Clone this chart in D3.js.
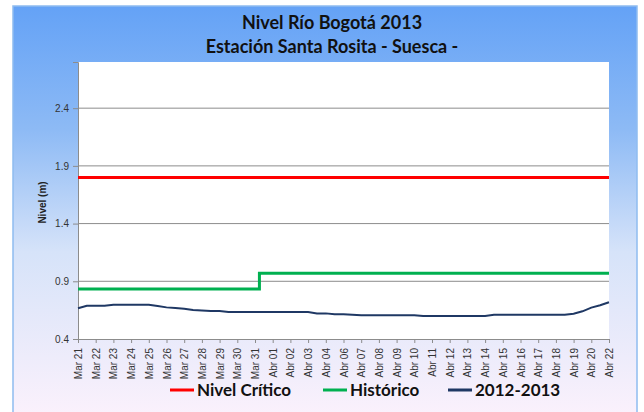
<!DOCTYPE html>
<html>
<head>
<meta charset="utf-8">
<script src="https://cdn.jsdelivr.net/npm/d3@7"></script>
<style>
  body { margin: 0; background: #fff; }
  svg { display: block; }
</style>
</head>
<body>
<div id="chart"></div>
<script>
// category labels on the x axis (Abr 05 and Abr 21 are not in the sheet)
const fechas = ["Mar 21","Mar 22","Mar 23","Mar 24","Mar 25","Mar 26","Mar 27","Mar 28","Mar 29","Mar 30","Mar 31",
  "Abr 01","Abr 02","Abr 03","Abr 04","Abr 06","Abr 07","Abr 08","Abr 09","Abr 10","Abr 11","Abr 12","Abr 13",
  "Abr 14","Abr 15","Abr 16","Abr 17","Abr 18","Abr 19","Abr 20","Abr 22"];

// two readings per label step (61 readings)
const nivelCritico = [
  1.8,1.8,1.8,1.8,1.8,1.8,1.8,1.8,1.8,1.8,1.8,1.8,1.8,1.8,1.8,1.8,1.8,1.8,1.8,1.8,
  1.8,1.8,1.8,1.8,1.8,1.8,1.8,1.8,1.8,1.8,1.8,1.8,1.8,1.8,1.8,1.8,1.8,1.8,1.8,1.8,
  1.8,1.8,1.8,1.8,1.8,1.8,1.8,1.8,1.8,1.8,1.8,1.8,1.8,1.8,1.8,1.8,1.8,1.8,1.8,1.8,1.8];

const historico = [
  0.833,0.833,0.833,0.833,0.833,0.833,0.833,0.833,0.833,0.833,0.833,0.833,0.833,0.833,0.833,0.833,0.833,0.833,0.833,0.833,
  0.833,0.969,0.969,0.969,0.969,0.969,0.969,0.969,0.969,0.969,0.969,0.969,0.969,0.969,0.969,0.969,0.969,0.969,0.969,0.969,
  0.969,0.969,0.969,0.969,0.969,0.969,0.969,0.969,0.969,0.969,0.969,0.969,0.969,0.969,0.969,0.969,0.969,0.969,0.969,0.969,0.969];

const serie2012 = [
  0.666,0.688,0.688,0.688,0.697,0.697,0.697,0.697,0.697,0.686,0.674,0.668,0.662,0.651,0.646,0.642,0.642,0.634,0.634,0.634,
  0.634,0.634,0.634,0.634,0.634,0.634,0.634,0.622,0.622,0.614,0.614,0.610,0.605,0.605,0.605,0.605,0.605,0.605,0.605,0.599,
  0.599,0.599,0.599,0.599,0.599,0.599,0.599,0.610,0.610,0.610,0.610,0.610,0.610,0.610,0.610,0.610,0.619,0.640,0.672,0.692,0.718];

const yTicks = [0.4, 0.9, 1.4, 1.9, 2.4];

const width = 644, height = 412;
const plot = {left: 78, right: 609, top: 62, bottom: 339};

const svg = d3.select("#chart").append("svg")
  .attr("width", width)
  .attr("height", height);

// background gradient panel
const defs = svg.append("defs");
const grad = defs.append("linearGradient")
  .attr("id", "bg")
  .attr("x1", 0).attr("y1", 0).attr("x2", 0).attr("y2", 1);
grad.append("stop").attr("offset", "0%").attr("stop-color", "#64a2f6");
grad.append("stop").attr("offset", "30%").attr("stop-color", "#8dbaf5");
grad.append("stop").attr("offset", "60%").attr("stop-color", "#d6e3f9");
grad.append("stop").attr("offset", "100%").attr("stop-color", "#fbf1fc");

svg.append("rect")
  .attr("x", 13).attr("y", 6)
  .attr("width", 624).attr("height", 410)
  .attr("fill", "url(#bg)")
  .attr("stroke", "#8fbcf0")
  .attr("stroke-width", 1.5);

svg.append("rect")
  .attr("x", plot.left).attr("y", plot.top)
  .attr("width", plot.right - plot.left)
  .attr("height", plot.bottom - plot.top)
  .attr("fill", "#fff");

// scales
const xScale = d3.scaleLinear()
  .domain([0, serie2012.length - 1])
  .range([plot.left, plot.right]);

const yScale = d3.scaleLinear()
  .domain([0.4, 2.8])
  .range([plot.bottom, plot.top]);

// gridlines
svg.append("g")
  .selectAll("line")
  .data(yTicks.slice(1))
  .enter()
  .append("line")
  .attr("x1", plot.left).attr("x2", plot.right)
  .attr("y1", d => yScale(d)).attr("y2", d => yScale(d))
  .attr("stroke", "#8c8c8c")
  .attr("stroke-width", 1);

// y axis
const yAxis = d3.axisLeft(yScale)
  .tickValues(yTicks)
  .tickFormat(d3.format(".1f"))
  .tickSize(5)
  .tickPadding(4);

const gy = svg.append("g")
  .attr("transform", "translate(" + plot.left + ",0)")
  .call(yAxis);
gy.select(".domain").attr("stroke", "#8c8c8c");
gy.selectAll(".tick line").attr("stroke", "#8c8c8c");
gy.selectAll("text")
  .attr("font-family", "Liberation Sans, Arial, sans-serif")
  .attr("font-size", 10)
  .attr("fill", "#333");

// x axis, a label every second reading
const xAxis = d3.axisBottom(xScale)
  .tickValues(fechas.map((f, i) => i * 2))
  .tickFormat(d => fechas[d / 2])
  .tickSize(4)
  .tickSizeOuter(0);

const gx = svg.append("g")
  .attr("transform", "translate(0," + plot.bottom + ")")
  .call(xAxis);
gx.select(".domain").attr("stroke", "#8c8c8c");
gx.selectAll(".tick line").attr("stroke", "#8c8c8c");
gx.selectAll("text")
  .attr("font-family", "Liberation Sans, Arial, sans-serif")
  .attr("font-size", 10)
  .attr("fill", "#333")
  .attr("text-anchor", "end")
  .attr("transform", "rotate(-90)")
  .attr("x", -9)
  .attr("y", 0)
  .attr("dy", "0.35em");

// y axis title
svg.append("text")
  .attr("transform", "translate(46," + ((plot.top + plot.bottom) / 2 + 2) + ") rotate(-90)")
  .attr("text-anchor", "middle")
  .attr("font-family", "Liberation Sans, Arial, sans-serif")
  .attr("font-size", 10)
  .attr("font-weight", "bold")
  .attr("fill", "#222")
  .text("Nivel (m)");

// lines
const line = d3.line()
  .x((d, i) => xScale(i))
  .y(d => yScale(d));

const stepLine = d3.line()
  .x((d, i) => xScale(i))
  .y(d => yScale(d))
  .curve(d3.curveStep);

svg.append("path")
  .datum(nivelCritico)
  .attr("d", line)
  .attr("fill", "none")
  .attr("stroke", "#ff0000")
  .attr("stroke-width", 3);

svg.append("path")
  .datum(historico)
  .attr("d", stepLine)
  .attr("fill", "none")
  .attr("stroke", "#00b050")
  .attr("stroke-width", 3);

svg.append("path")
  .datum(serie2012)
  .attr("d", line)
  .attr("fill", "none")
  .attr("stroke", "#1f3864")
  .attr("stroke-width", 2);

// title
const title = svg.append("text")
  .attr("text-anchor", "middle")
  .attr("font-family", "Lato, 'Open Sans', sans-serif")
  .attr("font-size", 18)
  .attr("font-weight", "bold")
  .attr("fill", "#111");
title.append("tspan").attr("x", 332).attr("y", 29).text("Nivel Río Bogotá 2013");
title.append("tspan").attr("x", 332).attr("y", 53).text("Estación Santa Rosita - Suesca -");

// legend
const legendItems = [
  {name: "Nivel Crítico", color: "#ff0000", x: 170},
  {name: "Histórico", color: "#00b050", x: 323},
  {name: "2012-2013", color: "#1f3864", x: 448}
];

const legend = svg.append("g");
legendItems.forEach(d => {
  legend.append("line")
    .attr("x1", d.x).attr("x2", d.x + 24)
    .attr("y1", 390).attr("y2", 390)
    .attr("stroke", d.color)
    .attr("stroke-width", 3);
  legend.append("text")
    .attr("x", d.x + 27)
    .attr("y", 396)
    .attr("font-family", "Lato, 'Open Sans', sans-serif")
    .attr("font-size", 17)
    .attr("font-weight", "bold")
    .attr("fill", "#111")
    .text(d.name);
});
</script>
</body>
</html>
